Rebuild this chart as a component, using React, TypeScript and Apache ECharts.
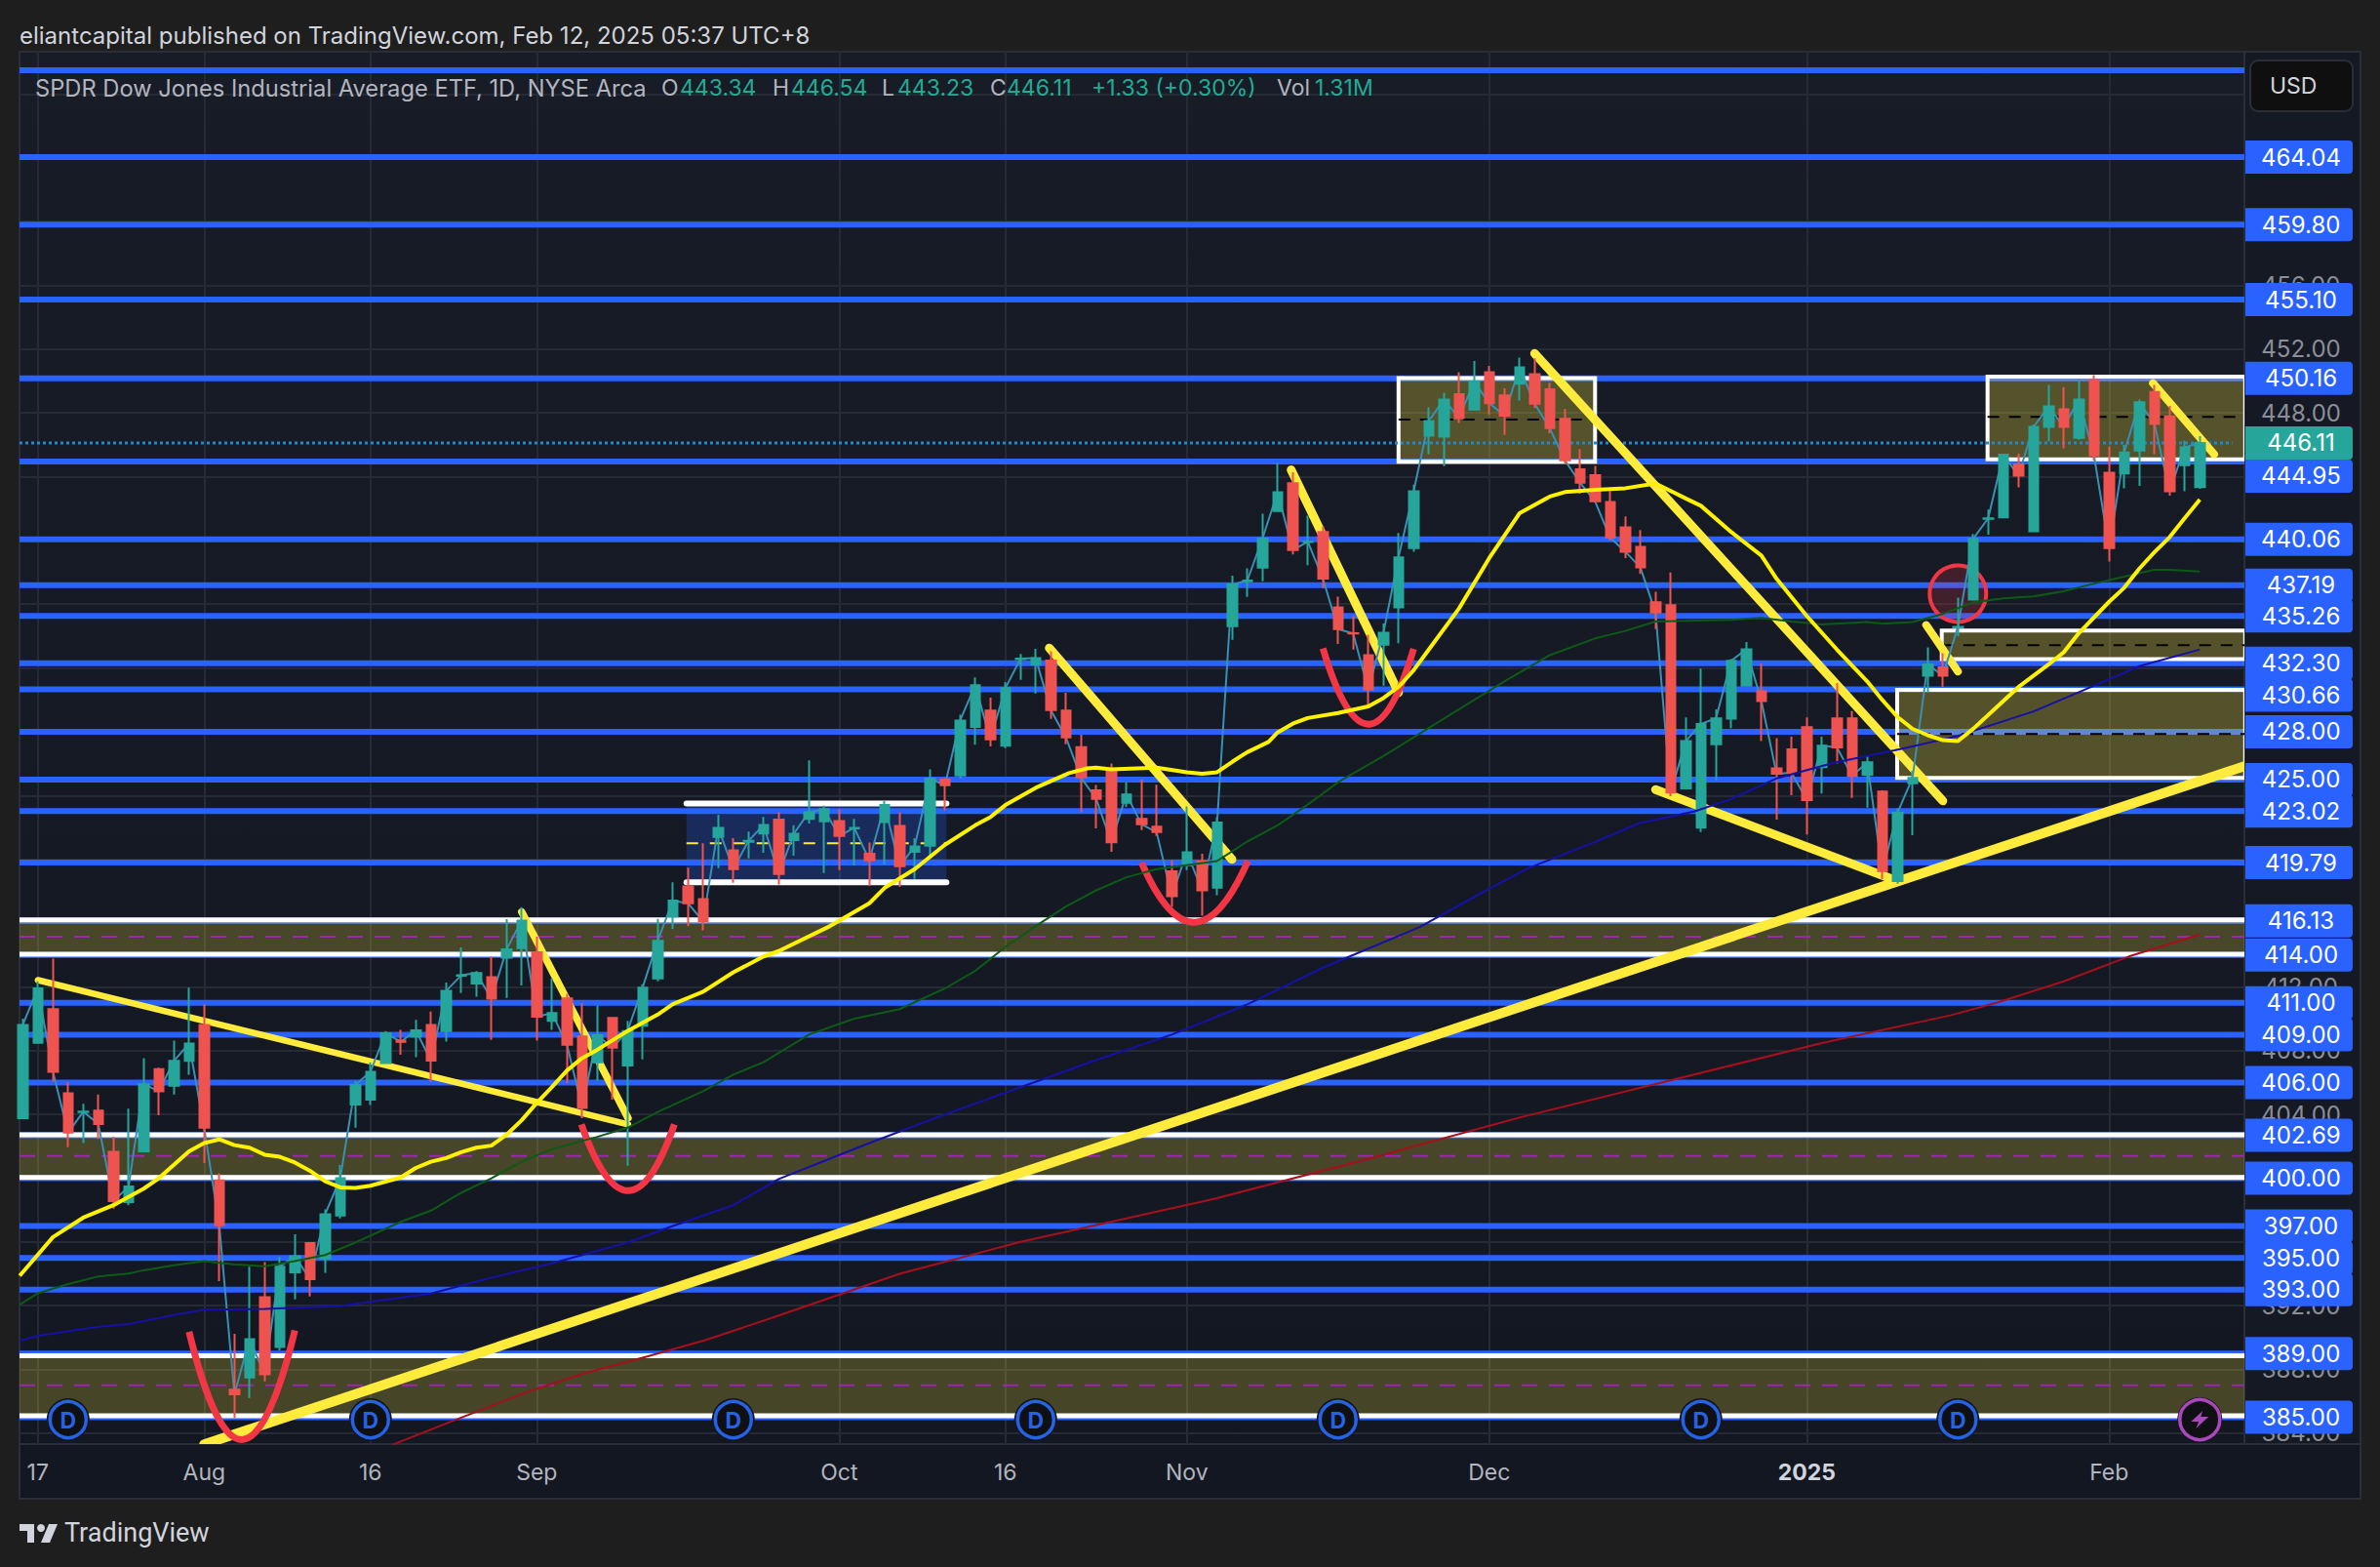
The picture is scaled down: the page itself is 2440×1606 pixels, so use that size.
import React, { useEffect, useRef } from "react";
import * as echarts from "echarts";

// ---------- candles: [open, high, low, close]; the first bar has index -1
const FIRST_BAR = -1;
const candles: number[][] = [
[403.76,410.0,403.7,409.61],[408.49,412.34,408.49,411.9],[410.6,413.77,406.05,406.67],[405.32,406.02,401.94,402.85],
[404.14,404.67,402.2,404.17],[404.23,405.24,402.46,403.4],[401.65,402.59,398.09,398.56],[398.5,404.36,398.3,399.47],
[401.68,407.53,401.68,405.89],[406.83,406.93,403.94,405.45],[405.79,408.62,405.24,407.35],[407.35,411.95,406.49,408.44],
[409.61,410.91,400.95,403.16],[399.86,400.3,393.54,397.05],[386.73,390.24,384.96,386.44],[387.5,394.45,386.21,389.9],
[392.53,394.74,387.25,387.69],[389.41,395.05,389.2,394.45],[394.09,396.48,392.4,395.1],[395.93,395.98,392.58,393.67],
[394.97,398.04,394.06,397.73],[397.65,400.82,397.47,399.99],[404.62,406.1,403.16,405.84],[404.93,407.27,404.59,406.67],
[407.22,409.22,407.22,409.09],[408.62,409.3,407.74,408.55],[408.88,409.92,407.58,409.27],[409.61,410.44,406.05,407.37],
[409.22,412.26,408.57,411.74],[412.7,414.47,411.61,412.72],[412.21,412.99,411.38,412.86],[412.6,413.9,408.67,411.25],
[413.82,416.24,411.3,414.34],[414.42,417.0,412.08,416.16],[414.16,415.15,408.62,410.13],[409.87,412.52,409.3,410.36],
[411.27,411.56,405.97,408.36],[408.88,410.96,403.76,404.41],[407.27,410.83,406.1,408.96],[410.05,410.05,404.93,408.18],
[407.06,409.87,400.77,409.22],[409.56,412.16,407.45,411.95],[412.52,416.26,412.34,414.89],[416.42,418.56,415.64,417.4],
[418.3,419.48,415.8,417.24],[417.5,421.0,415.54,416.12],[421.4,422.79,419.44,421.97],[420.56,421.32,418.52,419.38],
[421.1,421.73,420.05,421.15],[421.62,422.65,420.4,422.15],[422.48,422.95,418.42,419.07],[421.2,422.13,420.22,421.6],
[422.54,426.2,422.24,422.95],[422.38,423.36,419.14,423.15],[422.4,423.15,419.32,421.46],[421.93,422.54,419.63,421.97],
[420.34,421.05,418.32,419.93],[422.34,423.65,419.69,423.4],[422.09,422.95,418.26,419.56],[420.46,421.32,418.77,420.81],
[420.85,425.64,420.03,425.05],[424.99,425.09,423.05,424.64],[425.25,429.07,425.05,428.7],[428.3,431.4,427.19,430.91],
[429.32,430.13,427.07,427.52],[427.13,431.11,426.97,430.74],[432.55,432.88,431.25,432.58],[432.21,433.19,430.4,432.62],
[432.46,433.05,428.8,429.36],[429.32,430.44,427.21,427.64],[427.03,427.81,422.95,425.13],[424.32,424.66,421.93,423.79],
[425.5,426.01,420.46,421.07],[423.54,424.83,423.28,424.07],[422.54,424.99,421.83,422.19],[422.05,424.68,421.46,421.7],
[419.24,419.93,417.03,417.69],[419.62,423.32,419.32,420.44],[419.85,420.34,416.46,418.05],[418.22,422.64,417.75,422.3],
[434.62,437.78,433.76,437.23],[437.43,438.25,436.45,437.48],[438.29,441.68,437.43,440.11],[441.84,444.86,441.84,443.02],
[443.59,444.27,439.11,439.39],[439.9,441.55,438.45,439.92],[440.53,440.88,437.0,437.6],[435.8,436.47,433.5,434.44],
[434.18,435.26,433.15,434.16],[432.8,434.09,429.59,430.64],[433.45,434.79,430.88,434.2],[435.8,440.46,433.55,438.93],
[439.52,443.5,439.29,443.08],[446.57,448.35,445.4,447.48],[446.5,449.26,444.65,448.84],[449.17,450.55,447.36,447.67],
[448.2,451.25,448.2,449.96],[450.55,450.95,447.9,448.61],[449.1,449.54,446.62,447.83],[449.82,451.46,448.77,450.85],
[450.43,451.42,448.3,448.58],[449.47,449.89,446.71,447.04],[447.62,448.25,444.79,445.02],[444.46,445.72,442.92,443.62],
[444.09,444.67,442.45,442.45],[442.4,443.1,439.99,440.17],[440.81,441.51,438.89,439.29],[439.59,440.64,437.9,438.3],
[436.12,436.78,434.44,435.47],[435.93,437.99,423.95,424.18],[424.44,428.89,424.37,427.41],[421.98,431.96,421.7,428.49],
[427.22,429.4,424.95,428.84],[428.82,432.56,428.23,432.45],[430.88,433.62,430.88,433.17],[430.53,432.28,427.41,429.92],
[425.7,427.6,422.49,425.37],[426.9,427.69,424.02,425.42],[428.28,428.89,421.56,423.71],[425.77,427.69,424.13,427.13],
[428.84,431.04,426.0,427.01],[428.84,429.29,423.85,425.23],[425.3,426.52,423.24,426.08],[424.25,424.32,418.75,419.26],
[418.63,423.2,418.47,422.91],[424.76,425.54,421.51,425.11],[431.52,433.29,430.47,432.22],[432.04,432.92,430.8,431.52],
[434.55,436.41,433.97,434.58],[436.28,440.41,436.28,440.09],[441.35,441.94,440.35,441.38],[441.44,445.44,441.44,445.38],
[444.76,445.44,443.32,444.06],[440.57,447.26,440.52,447.12],[447.12,449.75,446.21,448.4],[448.22,449.62,445.77,447.12],
[446.43,450.1,446.32,448.83],[450.05,450.36,445.03,445.33],[444.24,445.88,438.67,439.52],[444.2,445.99,443.26,445.51],
[445.64,448.83,443.41,448.66],[449.31,449.75,445.4,447.3],[447.78,448.44,442.8,443.08],[444.72,446.25,443.08,445.84],
[443.34,446.54,443.23,446.11],
];

// ---------- moving averages: [bar index, price]
const emaYellow: number[][] = [[-1.2,393.88],[1,396.3],[3,397.52],[5,398.3],[7,399.34],[8,399.99],[10,401.68],[11,402.2],[12,402.43],[13,402.07],[14,401.91],[15,401.47],[16,401.34],[17,400.98],[18,400.46],[19,399.81],[20,399.42],[21,399.39],[22,399.52],[24,400.04],[25,400.64],[26,401.03],[27,401.26],[28,401.63],[29,401.91],[30,402.04],[31,402.72],[32,403.63],[33,404.72],[34,405.71],[35,406.75],[36,407.53],[37,408.05],[39,409.22],[41,410.26],[42,410.91],[44,411.69],[46,412.91],[48,413.9],[49,414.24],[52.4,415.81],[55,417.24],[56,418.2],[58,419.38],[60,420.91],[62,422.13],[63,422.64],[64,423.4],[66,424.48],[68.2,425.4],[69.4,425.7],[70,425.74],[71,425.64],[74,425.74],[76,425.46],[77,425.36],[78,425.46],[79,426.11],[80,426.72],[81.4,427.36],[82,427.95],[83,428.5],[84,428.86],[86,429.17],[88,429.59],[89,430.11],[90,430.81],[91,431.86],[92,433.15],[94,435.73],[96,438.89],[98,441.7],[100,442.75],[101,443.03],[103,443.17],[105,443.27],[107,443.57],[109,442.63],[110,442.17],[112,440.53],[114,439.05],[115,437.6],[117,435.26],[119,433.15],[121,431.16],[122,429.99],[123,428.93],[124,428.18],[125,427.78],[126,427.47],[127,427.41],[128,428.17],[130,429.92],[131,430.8],[133,432.22],[134,432.98],[135,434.19],[137,436.15],[138,437.03],[139,438.23],[140,439.26],[141,440.2],[142,441.4],[143,442.56]];
const emaGreen: number[][] = [[-1.2,392.06],[0,392.78],[2,393.36],[4,393.83],[6,394.01],[7,394.22],[9,394.53],[11,394.79],[13,394.58],[15,394.48],[17,394.79],[19,395.18],[21,395.96],[24,397.26],[26,397.96],[28,399.08],[30,399.99],[32,401.03],[34,401.81],[37,402.59],[39,403.16],[41,404.15],[44,405.45],[46,406.49],[48,407.27],[51,409],[54,410],[57,410.6],[60,411.9],[62,413],[64,414.5],[66,415.81],[68,417.03],[70,418.05],[72,418.87],[74,419.38],[78,419.89],[80,421.11],[82,422.13],[84,423.43],[86,424.83],[89,426.47],[92,428.23],[95,429.99],[97,431.16],[100,432.8],[103,433.85],[105,434.32],[107,434.91],[109,434.95],[112,435.02],[114,435.14],[116,434.91],[118,434.72],[121,434.88],[122,434.78],[124,434.88],[126,435.39],[128,436.11],[130,436.37],[132,436.48],[134,436.81],[136,437.29],[138,437.73],[140,438.16],[141,438.16],[143,438.05]];
const emaBlue: number[][] = [[-1.2,389.8],[0,390.11],[4,390.68],[6,390.84],[9,391.41],[11,391.75],[15,391.8],[20,391.98],[24,392.5],[26,392.76],[30,393.75],[34,394.66],[39,395.96],[42,397.0],[46,398.3],[49,399.94],[55,402.2],[60,404.0],[65,405.7],[70,407.4],[75,409],[80,410.9],[85,413.2],[91.4,415.75],[95.8,418.05],[98.6,419.45],[103,421.09],[105.9,422.26],[109.6,423.01],[112,423.78],[115,425.07],[118.8,426.05],[122.8,426.83],[124,427.08],[127,427.74],[132,429.27],[135.8,430.8],[139,432.11],[143,433.16]];
const emaRed: number[][] = [[23.5,383.3],[27.8,384.9],[32.4,386.6],[36.2,387.77],[40.3,388.81],[44.2,389.85],[49.1,391.41],[57,394],[65,396],[77.8,398.7],[88,401.2],[98,403.8],[118,408.47],[126.5,410.21],[129.7,411.04],[134,412.34],[138.3,413.9],[143,415.28]];

// ---------- price levels
const blueLevels = [469.49,464.04,459.8,455.1,450.16,444.95,440.06,437.19,435.26,432.3,430.66,428,425,423.02,419.79,416.13,414,411,409,406,402.69,400,397,395,393,389,385];
const labelledLevels = [464.04,459.8,455.1,450.16,444.95,440.06,437.19,435.26,432.3,430.66,428,425,423.02,419.79,416.13,414,411,409,406,402.69,400,397,395,393,389,385];
const labelShifts: Record<string, number> = { "444.95": 15, "430.66": 6 };
const LAST_PRICE = 446.11;

// zones: [top, mid, bottom]
const bandZones: number[][] = [[416.2,415.14,414.04],[402.72,401.39,400.05],[388.86,387,385.1]];
// boxes: [left bar, right bar, top, mid, bottom]
const boxes: number[][] = [[90,103,450.18,447.58,444.93],[128.96,146,450.27,447.74,445.08],[125.93,146,434.34,433.42,432.55],[122.98,146,430.62,427.85,425.11]];
const blueBox = [42.9,60.1,423.5,421,418.56];

// trend lines: [bar1, price1, bar2, price2, thickness]
const trendLines: number[][] = [[11,383.3,146,425.85,10],[0,412.42,39.04,403.37,6.5],[32,416.7,39.04,403.76,7.5],[66.9,433.25,78.98,419.99,9],[82.9,444.42,90,430.45,9],[99,451.72,126,423.66,9],[107,424.37,123,418.63,9],[124.9,434.69,127,431.78,8],[139.9,449.86,143.95,445.4,8]];
// arcs: [start bar, start price, bottom bar, bottom price, end bar, end price]
const arcs: number[][] = [[10,390.37,13.5,383.6,17,390.45],[35.95,403.37,39.04,399.21,42.1,403.37],[73,419.79,76.5,416.05,80.04,419.89],[85,433.22,88,428.47,91,433.2]];
const circleMark = [127,436.66];

// events
const dividendBars = [2,22,46,66,86,110,127];
const lightningBars = [143];
const EVENT_PRICE = 384.85;

// axes
const xTickBars = [0,11,22,33,53,64,76,96,117,137];
const xTickLabels = ["17","Aug","16","Sep","Oct","16","Nov","Dec","2025","Feb"];
const yTicks = [384,388,392,396,400,404,408,412,416,420,424,428,432,436,440,444,448,452,456,460,464,468];

const FONT = "Inter";
const UP = "#26a69a";
const DOWN = "#ef5350";
const BLUE = "#2962ff";
const YELLOW = "#ffeb3b";
const REDARC = "#f23645";

function buildOption() {
  const candleData = candles.map((c, k) => [k + FIRST_BAR, c[0], c[3], c[2], c[1]]);
  const closeData = candles.map((c, k) => [k + FIRST_BAR, c[3]]);
  const ema = (name: string, data: number[][], color: string, width: number, z: number) => ({
    type: "line", name, data, showSymbol: false, symbol: "none", silent: true, z, clip: true,
    lineStyle: { color, width }, smooth: false,
  });
  const line = (api: any, a: number[], b: number[], style: any) => {
    const p = api.coord(a), q = api.coord(b);
    return { type: "line", shape: { x1: p[0], y1: p[1], x2: q[0], y2: q[1] }, style };
  };
  const custom = (name: string, data: any[], z: number, clip: boolean, renderItem: any) => ({
    type: "custom", name, data: data.map((d, i) => [i, typeof d === "number" ? d : 0]), z, clip, silent: true, renderItem,
  });
  const XL = -1.213, XR = 145.95;

  const zoneChildren = (api: any, l: number, r: number, t: number, m: number, b: number, fill: string) => {
    const p = api.coord([l, t]), q = api.coord([r, b]);
    return { type: "rect", shape: { x: p[0], y: p[1], width: q[0] - p[0], height: q[1] - p[1] }, style: { fill } };
  };

  return {
    animation: false,
    backgroundColor: "#1e1e1e",
    tooltip: { show: false },
    grid: { left: 20, top: 53, width: 2281, height: 1427, show: true, borderColor: "#2a2e39", borderWidth: 2,
      backgroundColor: new echarts.graphic.LinearGradient(0, 0, 0, 1, [{ offset: 0, color: "#181c27" }, { offset: 1, color: "#131722" }]) },
    xAxis: {
      type: "value", min: XL, max: XR, axisLine: { show: false },
      axisTick: { show: false, customValues: xTickBars },
      splitLine: { show: true, lineStyle: { color: "#262a35", width: 2 } },
      axisLabel: {
        customValues: xTickBars, margin: 17, fontFamily: FONT, fontSize: 23, color: "#b2b5be", showMinLabel: true, showMaxLabel: true,
        formatter: (v: number) => { const s = xTickLabels[xTickBars.indexOf(v)] ?? ""; return s === "2025" ? "{b|2025}" : s; },
        rich: { b: { fontFamily: FONT, fontSize: 23, fontWeight: "bold", color: "#d1d4dc" } },
      },
    },
    yAxis: {
      type: "value", position: "right", min: 383.32, max: 470.65, scale: true, axisLine: { show: false },
      axisTick: { show: false, customValues: yTicks },
      splitLine: { show: true, lineStyle: { color: "#262a35", width: 2 } },
      axisLabel: { customValues: yTicks, margin: 58, align: "center", fontFamily: FONT, fontSize: 24, color: "#8b8e98", formatter: (v: number) => v.toFixed(2) },
    },
    series: [
      custom("levels", blueLevels, 2, true, (_: any, api: any) => {
        const p = blueLevels[api.value(0)];
        return line(api, [XL, p], [XR, p], { stroke: BLUE, lineWidth: 6 });
      }),
      custom("bands", bandZones, 3, true, (_: any, api: any) => {
        const [t, m, b] = bandZones[api.value(0)];
        const w = { stroke: "#ffffff", lineWidth: 5 };
        return { type: "group", children: [
          zoneChildren(api, XL, XR, t, m, b, "rgba(255,235,59,0.22)"),
          line(api, [XL, t], [XR, t], w), line(api, [XL, b], [XR, b], w),
          line(api, [XL, m], [XR, m], { stroke: "#9c27b0", lineWidth: 2, lineDash: [16, 12] }),
        ] };
      }),
      custom("boxes", boxes, 3, true, (_: any, api: any) => {
        const [l, r, t, m, b] = boxes[api.value(0)];
        const p = api.coord([l, t]), q = api.coord([r, b]);
        return { type: "group", children: [
          { type: "rect", shape: { x: p[0], y: p[1], width: q[0] - p[0], height: q[1] - p[1] }, style: { fill: "rgba(255,235,59,0.27)", stroke: "#ffffff", lineWidth: 4 } },
          line(api, [l, m], [r, m], { stroke: "#000000", lineWidth: 2, lineDash: [12, 10] }),
        ] };
      }),
      custom("bluebox", [0], 3, true, (_: any, api: any) => {
        const [l, r, t, m, b] = blueBox;
        const w = { stroke: "#ffffff", lineWidth: 6, lineCap: "round" };
        return { type: "group", children: [
          zoneChildren(api, l, r, t, m, b, "rgba(41,98,255,0.25)"),
          line(api, [l, t], [r, t], w), line(api, [l, b], [r, b], w),
          line(api, [l, m], [r, m], { stroke: YELLOW, lineWidth: 2, lineDash: [12, 12] }),
        ] };
      }),
      custom("lastPrice", [0], 3, true, (_: any, api: any) =>
        line(api, [XL, LAST_PRICE], [XR - 0.8, LAST_PRICE], { stroke: "#2088cc", lineWidth: 3, lineDash: [3, 3] })),
      custom("trends", trendLines, 4, true, (_: any, api: any) => {
        const [a, b, c, d, w] = trendLines[api.value(0)];
        return line(api, [a, b], [c, d], { stroke: YELLOW, lineWidth: w, lineCap: "round" });
      }),
      custom("arcs", arcs, 4, true, (_: any, api: any) => {
        const [a, b, c, d, e, f] = arcs[api.value(0)];
        const s = api.coord([a, b]), m = api.coord([c, d]), t = api.coord([e, f]);
        return { type: "bezierCurve", shape: { x1: s[0], y1: s[1], x2: t[0], y2: t[1], cpx1: 2 * m[0] - (s[0] + t[0]) / 2, cpy1: 2 * m[1] - (s[1] + t[1]) / 2 }, style: { stroke: REDARC, lineWidth: 7, fill: "none" } };
      }),
      custom("circle", [0], 4, true, (_: any, api: any) => {
        const c = api.coord(circleMark);
        return { type: "circle", shape: { cx: c[0], cy: c[1], r: 29 }, style: { fill: "rgba(242,54,69,0.2)", stroke: REDARC, lineWidth: 4 } };
      }),
      { type: "line", name: "close", data: closeData, symbol: "none", showSymbol: false, silent: true, z: 5, lineStyle: { color: "#3a8fb5", width: 2 } },
      {
        type: "candlestick", name: "DIA", data: candleData, z: 6, silent: true, barWidth: 10, clip: true,
        itemStyle: { color: UP, color0: DOWN, borderColor: UP, borderColor0: DOWN, borderWidth: 2 },
      },
      ema("ema200", emaRed, "#a80f1c", 2, 7),
      ema("ema100", emaBlue, "#1510a8", 2, 7),
      ema("ema50", emaGreen, "#0d5a16", 2, 7),
      ema("ema20", emaYellow, "#fff200", 4, 7),
      custom("events", dividendBars, 8, false, (_: any, api: any) => {
        const c = api.coord([dividendBars[api.value(0)], EVENT_PRICE]);
        return { type: "group", children: [
          { type: "circle", shape: { cx: c[0], cy: c[1], r: 22 }, style: { fill: "#15171c" } },
          { type: "circle", shape: { cx: c[0], cy: c[1], r: 18.5 }, style: { fill: "#0f1014", stroke: "#2563e6", lineWidth: 3.5 } },
          { type: "text", x: c[0], y: c[1] + 1, style: { text: "D", fill: "#2563e6", font: `bold 23px ${FONT}`, align: "center", verticalAlign: "middle" } },
        ] };
      }),
      custom("lightning", lightningBars, 8, false, (_: any, api: any) => {
        const c = api.coord([lightningBars[api.value(0)], EVENT_PRICE]);
        const pts = [[3, -9], [-9, 2], [-1, 2], [-4, 9], [9, -3], [1, -3]].map((o) => [c[0] + o[0], c[1] + o[1]]);
        return { type: "group", children: [
          { type: "circle", shape: { cx: c[0], cy: c[1], r: 23 }, style: { fill: "#15171c" } },
          { type: "circle", shape: { cx: c[0], cy: c[1], r: 20.5 }, style: { fill: "#0f1014", stroke: "#ab47bc", lineWidth: 3.5 } },
          { type: "polygon", shape: { points: pts }, style: { fill: "#ab47bc" } },
        ] };
      }),
      custom("priceLabels", labelledLevels, 9, false, (_: any, api: any) => {
        const p = labelledLevels[api.value(0)];
        const y = api.coord([XR, p])[1] + (labelShifts[p.toFixed(2)] ?? 0);
        return { type: "group", children: [
          { type: "rect", shape: { x: 2302, y: y - 17, width: 110, height: 34, r: [0, 4, 4, 0] }, style: { fill: BLUE } },
          { type: "text", x: 2359, y, style: { text: p.toFixed(2), fill: "#ffffff", font: `24px ${FONT}`, align: "center", verticalAlign: "middle" } },
        ] };
      }),
      custom("lastLabel", [0], 10, false, (_: any, api: any) => {
        const y = api.coord([XR, LAST_PRICE])[1];
        return { type: "group", children: [
          { type: "rect", shape: { x: 2302, y: y - 17, width: 110, height: 34, r: [0, 4, 4, 0] }, style: { fill: UP } },
          { type: "text", x: 2359, y, style: { text: LAST_PRICE.toFixed(2), fill: "#ffffff", font: `24px ${FONT}`, align: "center", verticalAlign: "middle" } },
        ] };
      }),
    ],
    graphic: [
      { type: "rect", z: -1, shape: { x: 2301, y: 53, width: 119, height: 1483 }, style: { fill: "#151924", stroke: "#2a2e39", lineWidth: 2 } },
      { type: "rect", z: -1, shape: { x: 20, y: 1480, width: 2400, height: 56 }, style: { fill: "#131722", stroke: "#2a2e39", lineWidth: 2 } },
      { type: "text", z: 20, style: { x: 20, y: 36, text: "eliantcapital published on TradingView.com, Feb 12, 2025 05:37 UTC+8", fill: "#d1d4dc", font: `24px ${FONT}`, verticalAlign: "middle" } },
      { type: "text", z: 20, style: { x: 36, y: 90, text: "SPDR Dow Jones Industrial Average ETF, 1D, NYSE Arca", fill: "#b2b5be", font: `23.7px ${FONT}`, verticalAlign: "middle" } },
      ...[
        [678, "O", "#b2b5be"], [697, "443.34", "#22ab94"], [792, "H", "#b2b5be"], [811, "446.54", "#22ab94"],
        [904, "L", "#b2b5be"], [920, "443.23", "#22ab94"], [1015, "C", "#b2b5be"], [1032, "446.11", "#22ab94"],
        [1119, "+1.33 (+0.30%)", "#22ab94"], [1309, "Vol", "#b2b5be"], [1348, "1.31M", "#22ab94"],
      ].map((t: any) => ({ type: "text", z: 20, style: { x: t[0], y: 90, text: t[1], fill: t[2], font: `23px ${FONT}`, verticalAlign: "middle" } })),
      { type: "rect", z: 20, shape: { x: 2307, y: 62, width: 105, height: 52, r: 8 }, style: { fill: "#0f0f0f", stroke: "#2a2e39", lineWidth: 2 } },
      { type: "text", z: 21, style: { x: 2327, y: 88, text: "USD", fill: "#d1d4dc", font: `23px ${FONT}`, verticalAlign: "middle" } },
      { type: "polygon", z: 20, shape: { points: [[20, 1562], [35, 1562], [35, 1581], [28, 1581], [28, 1569], [20, 1569]] }, style: { fill: "#d1d4dc" } },
      { type: "circle", z: 20, shape: { cx: 42, cy: 1566, r: 4 }, style: { fill: "#d1d4dc" } },
      { type: "polygon", z: 20, shape: { points: [[50, 1562], [59, 1562], [51, 1581], [42, 1581]] }, style: { fill: "#d1d4dc" } },
      { type: "text", z: 20, style: { x: 66, y: 1571, text: "TradingView", fill: "#d1d4dc", font: `27px Roboto`, verticalAlign: "middle" } },
    ],
  };
}

export default function App() {
  const ref = useRef<HTMLDivElement>(null);
  useEffect(() => {
    document.body.style.margin = "0";
    document.body.style.overflow = "hidden";
    document.body.style.background = "#1e1e1e";
    const chart = echarts.init(ref.current!, undefined, { renderer: "svg" });
    chart.setOption(buildOption() as any);
    return () => chart.dispose();
  }, []);
  return <div ref={ref} style={{ width: 2440, height: 1606 }} />;
}
